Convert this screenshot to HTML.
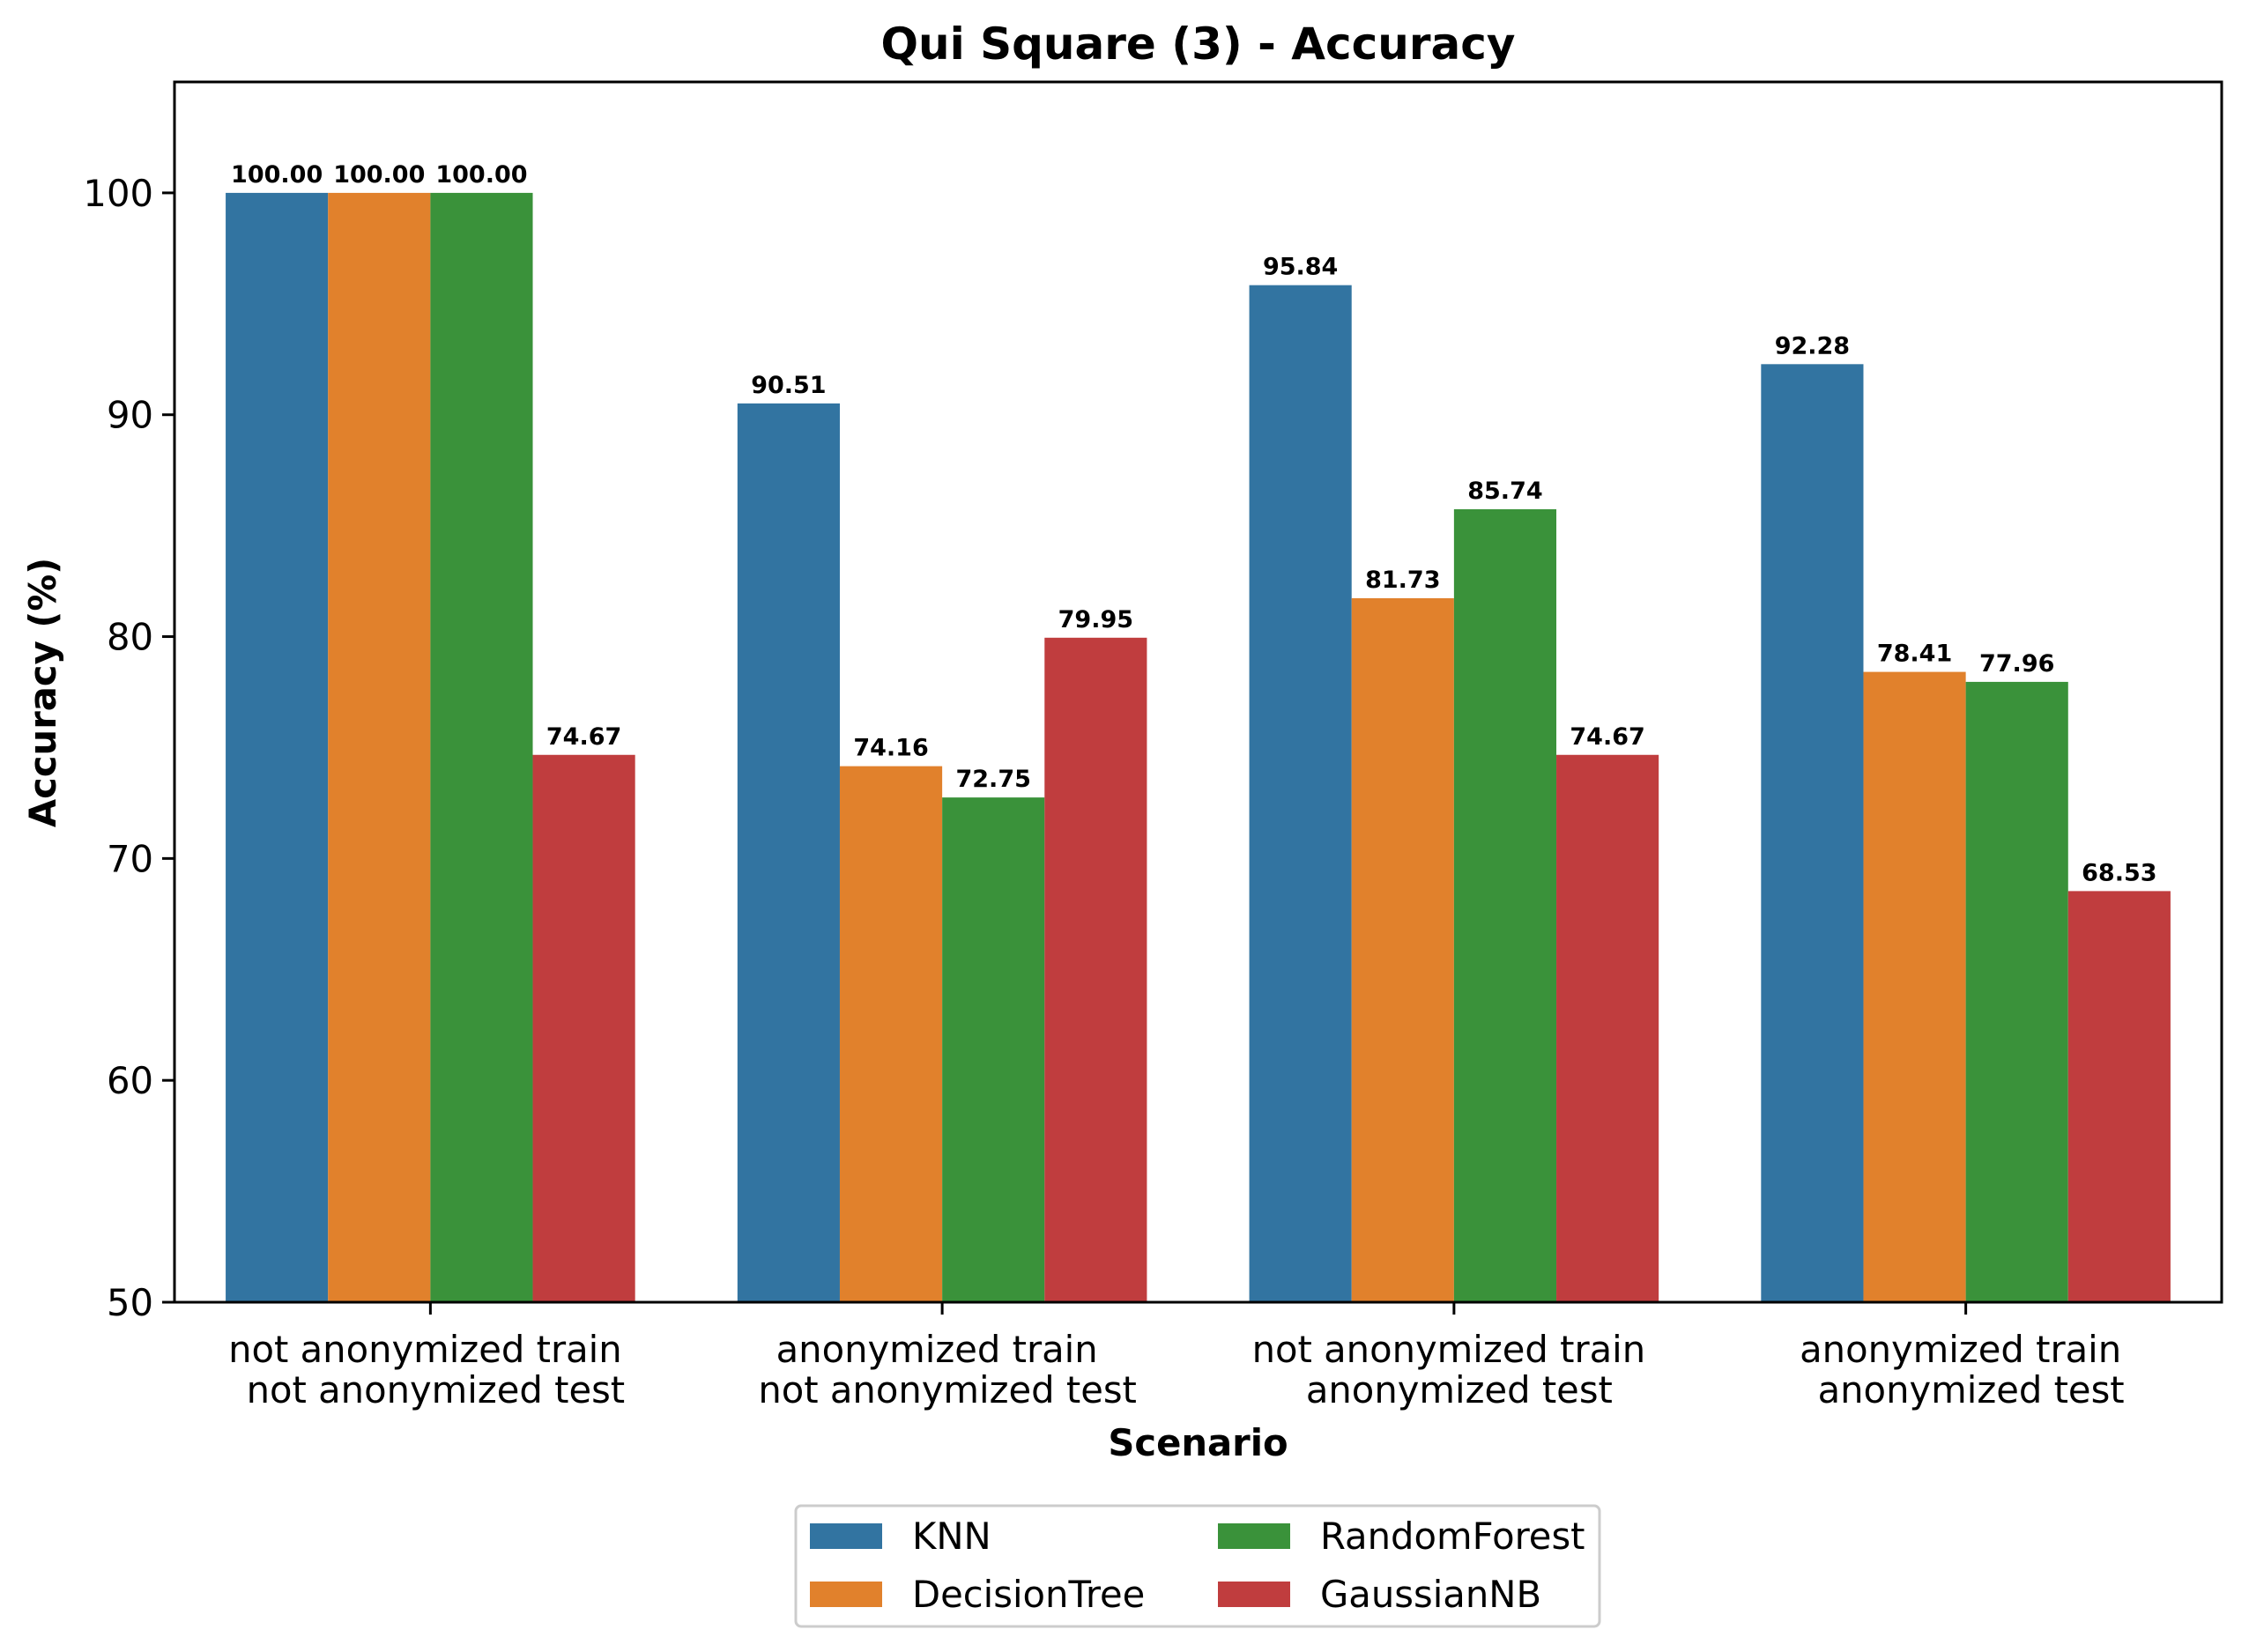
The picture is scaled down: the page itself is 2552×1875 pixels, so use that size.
<!DOCTYPE html>
<html><head><meta charset="utf-8"><style>body{margin:0;background:#fff}svg{display:block}text{font-family:"DejaVu Sans","Liberation Sans",sans-serif}</style></head>
<body>
<svg id="chart" width="2552" height="1875" xmlns="http://www.w3.org/2000/svg"></svg>
<script>
const categories = [["not anonymized train","not anonymized test"],["anonymized train","not anonymized test"],["not anonymized train","anonymized test"],["anonymized train","anonymized test"]];
const seriesNames = ["KNN","DecisionTree","RandomForest","GaussianNB"];
const knn = [100.00, 90.51, 95.84, 92.28];
const decisionTree = [100.00, 74.16, 81.73, 78.41];
const randomForest = [100.00, 72.75, 85.74, 77.96];
const gaussianNB = [74.67, 79.95, 74.67, 68.53];
const yTicks = [50, 60, 70, 80, 90, 100];
const series = [knn, decisionTree, randomForest, gaussianNB];
const colors = ["#3274a1","#e1812c","#3a923a","#c03d3e"];

const svg = document.getElementById('chart');
const NS = "http://www.w3.org/2000/svg";
const L=198, R=2521, T=93, B=1478, Y0=50, Y1=105;
const gw=(R-L)/categories.length, bw=gw*0.8/series.length;
const y = v => B - (v-Y0)/(Y1-Y0)*(B-T);
const xc = i => L + gw*(i+0.5);
function mk(tag, attrs, txt){const e=document.createElementNS(NS,tag);for(const k in attrs)e.setAttribute(k,attrs[k]);if(txt!==undefined)e.textContent=txt;svg.appendChild(e);return e;}

let e = mk('text',{x:(L+R)/2,y:67,'text-anchor':'middle','font-size':50,'font-weight':'bold'},'Qui Square (3) - Accuracy');



series.forEach((vals,s)=>{
  vals.forEach((v,i)=>{
    const x0 = xc(i) - gw*0.4 + s*bw;
    const r = mk('rect',{x:x0,y:y(v),width:bw,height:B-y(v),fill:colors[s]});
    
    
    const t = mk('text',{x:x0+bw/2,y:y(v)-12,'text-anchor':'middle','font-size':27,'font-weight':'bold'},v.toFixed(2));
    
    
  });
});

const frame = mk('rect',{x:L,y:T,width:R-L,height:B-T,fill:'none',stroke:'#000','stroke-width':3});



yTicks.forEach(v=>{
  const tk = mk('line',{x1:L-14,x2:L,y1:y(v),y2:y(v),stroke:'#000','stroke-width':3});
  
  
  const tl = mk('text',{x:L-24,y:y(v)+15,'text-anchor':'end','font-size':41.7},String(v));
  
  
});

categories.forEach((c,i)=>{
  const tk = mk('line',{x1:xc(i),x2:xc(i),y1:B,y2:B+14,stroke:'#000','stroke-width':3});
  
  
  const t1 = mk('text',{x:xc(i)-6,y:1546,'text-anchor':'middle','font-size':41.7},c[0]);
  
  
  const t2 = mk('text',{x:xc(i)+6,y:1592,'text-anchor':'middle','font-size':41.7},c[1]);
  
  
});

e = mk('text',{x:(L+R)/2,y:1652,'text-anchor':'middle','font-size':41.7,'font-weight':'bold'},'Scenario');


e = mk('text',{x:0,y:0,'text-anchor':'middle','font-size':41.7,'font-weight':'bold',transform:'translate(63,786) rotate(-90)'},'Accuracy (%)');



const lg = mk('rect',{x:903,y:1709,width:912,height:137,rx:6,fill:'#fff',stroke:'#ccc','stroke-width':3});


const lpos = [[919,1743],[919,1809],[1382,1743],[1382,1809]];
seriesNames.forEach((n,s)=>{
  const [px,py]=lpos[s];
  const p = mk('rect',{x:px,y:py-14,width:82,height:29,fill:colors[s]});
  
  
  const t = mk('text',{x:px+116,y:py+15,'font-size':41.7},n);
  
  
});
</script>
</body></html>
